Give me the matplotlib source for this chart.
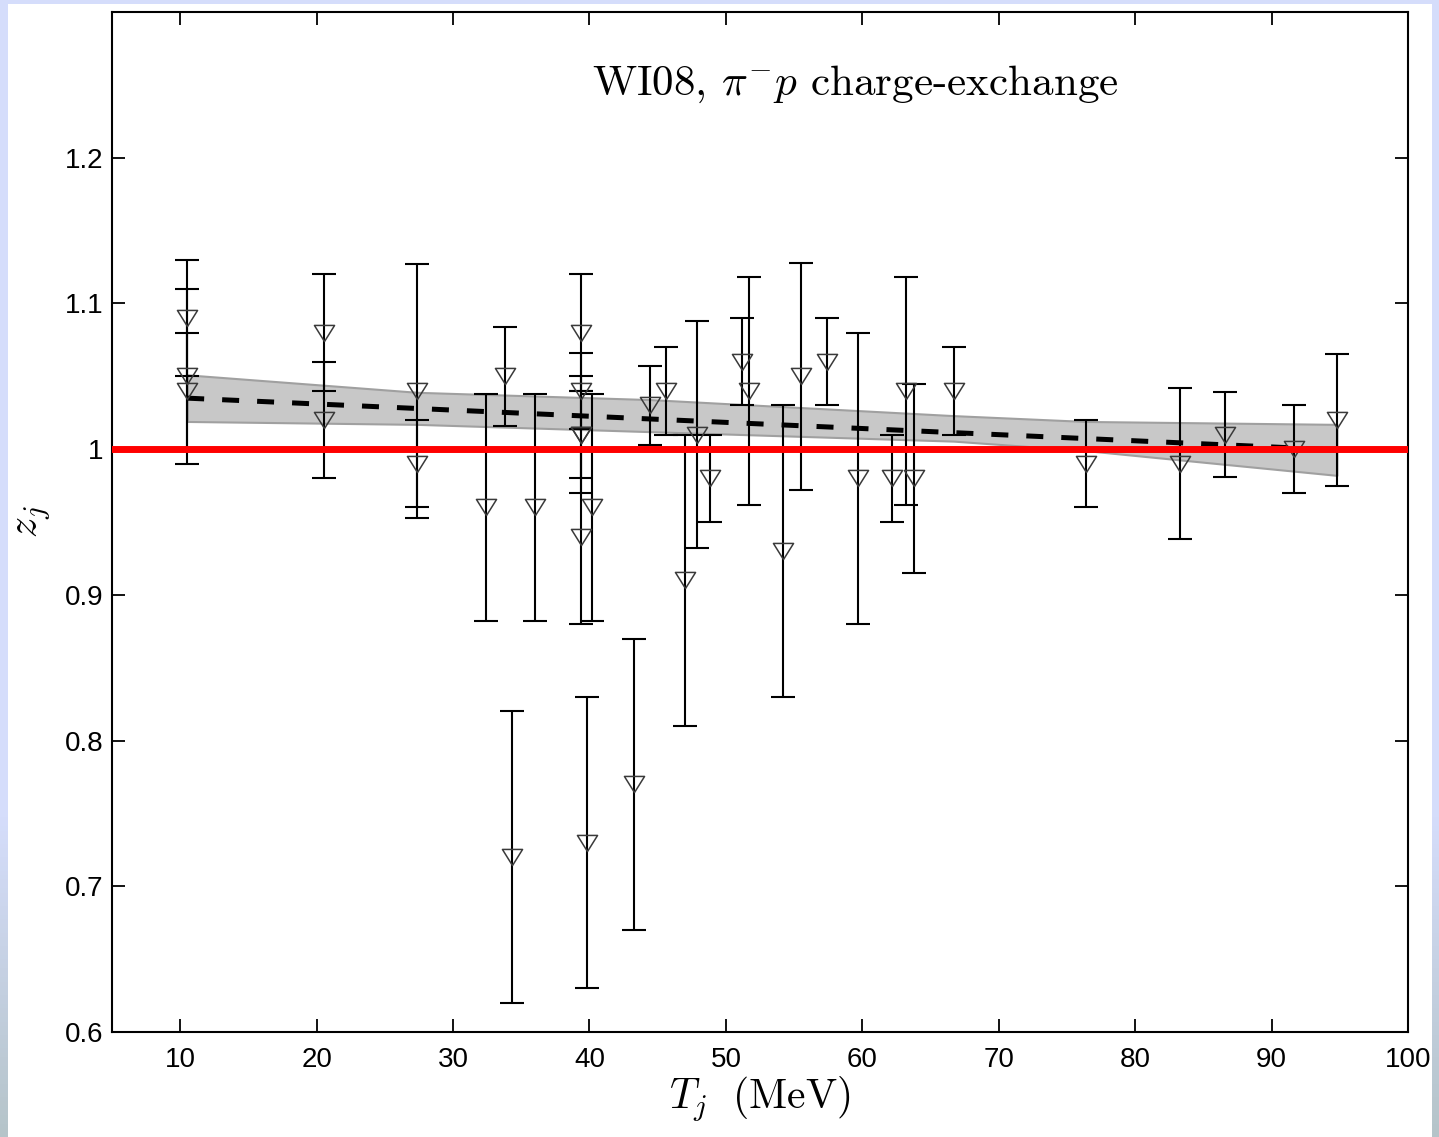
import numpy as np
import matplotlib
matplotlib.use("Agg")
import matplotlib.pyplot as plt
from matplotlib.patches import Rectangle
from matplotlib.path import Path
from matplotlib.colors import LinearSegmentedColormap

plt.rcParams['mathtext.fontset'] = 'cm'
plt.rcParams['font.family'] = ['Liberation Sans', 'DejaVu Sans']

# data points: energy T_j (MeV), scale factor z_j, uncertainty
T_j = [10.51, 10.51, 10.51, 20.56, 20.56, 27.38, 27.38, 32.45, 33.84, 34.35,
       36.04, 39.39, 39.39, 39.39, 39.39, 39.39, 39.85, 40.17, 43.30, 44.47,
       45.58, 46.97, 47.85, 48.80, 51.15, 51.66, 54.16, 55.48, 57.38, 59.66,
       62.15, 63.18, 63.77, 66.70, 76.38, 83.28, 86.58, 91.64, 94.79]
z_j = [1.09, 1.05, 1.04, 1.08, 1.02, 1.04, 0.99, 0.96, 1.05, 0.72,
       0.96, 1.08, 1.04, 1.01, 1.01, 0.94, 0.73, 0.96, 0.77, 1.03,
       1.04, 0.91, 1.01, 0.98, 1.06, 1.04, 0.93, 1.05, 1.06, 0.98,
       0.98, 1.04, 0.98, 1.04, 0.99, 0.99, 1.01, 1.00, 1.02]
dz_j = [0.04, 0.06, 0.04, 0.04, 0.04, 0.087, 0.03, 0.078, 0.034, 0.10,
        0.078, 0.04, 0.026, 0.04, 0.03, 0.06, 0.10, 0.078, 0.10, 0.027,
        0.03, 0.10, 0.078, 0.03, 0.03, 0.078, 0.10, 0.078, 0.03, 0.10,
        0.03, 0.078, 0.065, 0.03, 0.03, 0.052, 0.029, 0.03, 0.045]

# linear fit and its uncertainty band
fit_T = [10.51, 94.79]
fit_z = [1.035, 0.9995]
band_T = [10.51, 27.38, 44.47, 66.70, 76.38, 94.79]
band_hi = [1.051, 1.039, 1.034, 1.023, 1.019, 1.017]
band_lo = [1.019, 1.017, 1.012, 1.0055, 0.999, 0.982]

fig = plt.figure(figsize=(14.39, 11.37), dpi=100)

# slide-like background
bg = fig.add_axes([0, 0, 1, 1], zorder=-10)
cmap = LinearSegmentedColormap.from_list('bg', [(0, '#d5ddfb'), (0.72, '#d5ddfb'), (1, '#b5c4c9')])
bg.imshow(np.linspace(0, 1, 256).reshape(-1, 1), aspect='auto', cmap=cmap,
          extent=[0, 1, 0, 1], origin='upper')
bg.add_patch(Rectangle((8 / 1439, 0), (1432 - 8) / 1439, 1 - 4 / 1137,
                       facecolor='white', edgecolor='none'))
bg.set_xlim(0, 1)
bg.set_ylim(0, 1)
bg.axis('off')

ax = fig.add_axes([112 / 1439, 1 - 1032 / 1137, (1408 - 112) / 1439, (1032 - 12) / 1137])
ax.set_facecolor('none')

ax.fill_between(band_T, band_lo, band_hi, facecolor='#c8c8c8', edgecolor='#a0a0a0',
                linewidth=1.5, zorder=1)
ax.plot(fit_T, fit_z, color='black', linewidth=3.6, dashes=(3.4, 3.6),
        dash_capstyle='butt', zorder=2)

# flat down-pointing triangle
tri = Path([(-1, 0.8), (1, 0.8), (0, -0.8), (-1, 0.8)],
           [Path.MOVETO, Path.LINETO, Path.LINETO, Path.CLOSEPOLY])
ax.errorbar(T_j, z_j, yerr=dz_j, fmt='none', ecolor='black', elinewidth=1.5,
            capsize=8.3, capthick=1.5, zorder=3)
ax.plot(T_j, z_j, linestyle='none', marker=tri, markersize=14.5,
        markerfacecolor='none', markeredgecolor='#3a3a3a', markeredgewidth=1.1, zorder=4)

ax.axhline(1.0, color='#ff0000', linewidth=5.0, zorder=5)

ax.set_xlim(5, 100)
ax.set_ylim(0.6, 1.3)
ax.set_xticks(range(10, 101, 10))
ax.set_yticks([0.6, 0.7, 0.8, 0.9, 1.0, 1.1, 1.2])
ax.set_yticklabels(['0.6', '0.7', '0.8', '0.9', '1', '1.1', '1.2'])
ax.tick_params(direction='in', length=9.5, width=1.3, top=True, right=True,
               labelsize=20, colors='black')
ax.tick_params(axis='x', pad=11)
ax.tick_params(axis='y', pad=6)
for s in ax.spines.values():
    s.set_linewidth(1.5)

ax.set_xlabel(r'$T_j\ \ (\mathrm{MeV})$', fontsize=30, labelpad=1)
ax.set_ylabel(r'$z_j$', fontsize=30, labelpad=9)
ax.text(0.370, 0.929, r'WI08, $\pi^{-}p$ charge-exchange', transform=ax.transAxes,
        fontsize=31, fontfamily='cmr10', ha='left', va='center')

fig.savefig('out.png', dpi=100, facecolor=fig.get_facecolor())
